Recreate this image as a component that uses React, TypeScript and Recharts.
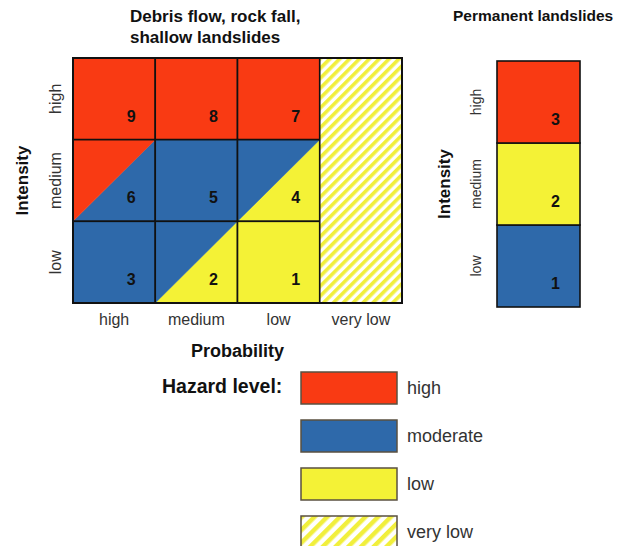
import React from "react";
import { ComposedChart, XAxis, YAxis, Scatter, ReferenceArea, Label } from "recharts";

// Debris flow, rock fall, shallow landslides matrix
const probabilityLabels = ["high", "medium", "low", "very low"];
const intensityLabels = ["low", "medium", "high"];

// one entry per cell: probability index, intensity index,
// hazard of upper-left half, hazard of lower-right half, cell number
const debrisProb = [0, 1, 2, 0, 1, 2, 0, 1, 2];
const debrisInt = [2, 2, 2, 1, 1, 1, 0, 0, 0];
const debrisUpper = ["high", "high", "high", "high", "moderate", "moderate", "moderate", "moderate", "low"];
const debrisLower = ["high", "high", "high", "moderate", "moderate", "low", "moderate", "low", "low"];
const debrisNumber = [9, 8, 7, 6, 5, 4, 3, 2, 1];

// Permanent landslides: low, medium, high intensity
const permanentLevels = ["moderate", "low", "high"];
const permanentNumber = [1, 2, 3];

const hazardLevels = ["high", "moderate", "low", "very low"];

const COLORS: Record<string, string> = {
  high: "#f93a13",
  moderate: "#2e69aa",
  low: "#f4f236",
  "very low": "url(#hatchMain)",
};

const FONT = '"Liberation Sans", Arial, Helvetica, sans-serif';

const splitShape = (upper: string, lower: string) => (props: any) => {
  const { x, y, width: w, height: h } = props;
  if (upper === lower) {
    return <rect x={x} y={y} width={w} height={h} fill={COLORS[upper]} stroke="#111" strokeWidth={1.6} />;
  }
  return (
    <g>
      <polygon
        points={`${x + w},${y} ${x + w},${y + h} ${x},${y + h}`}
        fill={COLORS[lower]}
        stroke={COLORS[lower]}
        strokeWidth={0.5}
      />
      <polygon
        points={`${x},${y} ${x + w},${y} ${x},${y + h}`}
        fill={COLORS[upper]}
        stroke={COLORS[upper]}
        strokeWidth={0.5}
      />
      <rect x={x} y={y} width={w} height={h} fill="none" stroke="#111" strokeWidth={1.6} />
    </g>
  );
};

const hatchShape = (props: any) => {
  const { x, y, width, height } = props;
  return (
    <g>
      <defs>
        <pattern id="hatchMain" width={7} height={7} patternUnits="userSpaceOnUse" patternTransform="rotate(45)">
          <rect width={7} height={7} fill="#ffffff" />
          <rect width={3.6} height={7} fill="#f1ef3c" />
        </pattern>
      </defs>
      <rect x={x} y={y} width={width} height={height} fill="url(#hatchMain)" stroke="#111" strokeWidth={1.6} />
    </g>
  );
};

const RotatedTick = (props: any) => {
  const { x, y, payload, shift, size } = props;
  const bx = x - shift;
  return (
    <text
      x={bx}
      y={y}
      transform={`rotate(-90, ${bx}, ${y})`}
      textAnchor="middle"
      fontSize={size}
      fill="#333"
      fontFamily={FONT}
    >
      {intensityLabels[Math.floor(payload.value)]}
    </text>
  );
};

const NumberMark = (props: any) => {
  const { cx, cy, payload } = props;
  return (
    <text x={cx + 17} y={cy + 17} dy="0.36em" textAnchor="middle" fontSize={16} fontWeight="bold" fill="#111" fontFamily={FONT}>
      {payload.n}
    </text>
  );
};

const intensityLabel = (dx: number) => ({ viewBox }: any) => {
  const bx = viewBox.x + dx;
  const cy = viewBox.y + viewBox.height / 2;
  return (
    <text
      x={bx}
      y={cy}
      transform={`rotate(-90, ${bx}, ${cy})`}
      textAnchor="middle"
      fontSize={17}
      fontWeight="bold"
      fill="#111"
      fontFamily={FONT}
    >
      Intensity
    </text>
  );
};

function DebrisChart() {
  const numbers = debrisNumber.map((n, i) => ({ x: debrisProb[i] + 0.5, y: debrisInt[i] + 0.5, n }));
  return (
    <ComposedChart width={420} height={370} margin={{ top: 58, right: 18, bottom: 0, left: 0 }}>
      <XAxis
        type="number"
        dataKey="x"
        domain={[0, 4]}
        ticks={[0.5, 1.5, 2.5, 3.5]}
        tickFormatter={(v: number) => probabilityLabels[Math.floor(v)]}
        axisLine={false}
        tickLine={false}
        tickMargin={5}
        height={67}
        allowDataOverflow
        tick={{ fontSize: 16, fill: "#333" }}
      >
        <Label
          content={({ viewBox }: any) => (
            <text
              x={viewBox.x + viewBox.width / 2}
              y={viewBox.y + 54}
              textAnchor="middle"
              fontSize={18}
              fontWeight="bold"
              fill="#111"
              fontFamily={FONT}
            >
              Probability
            </text>
          )}
        />
      </XAxis>
      <YAxis
        type="number"
        dataKey="y"
        domain={[0, 3]}
        ticks={[0.5, 1.5, 2.5]}
        width={73}
        axisLine={false}
        tickLine={false}
        allowDataOverflow
        tick={(p: any) => <RotatedTick {...p} shift={4} size={16} />}
      >
        <Label content={intensityLabel(28)} />
      </YAxis>
      {debrisNumber.map((n, i) => (
        <ReferenceArea
          key={n}
          x1={debrisProb[i]}
          x2={debrisProb[i] + 1}
          y1={debrisInt[i]}
          y2={debrisInt[i] + 1}
          shape={splitShape(debrisUpper[i], debrisLower[i])}
        />
      ))}
      <ReferenceArea x1={3} x2={4} y1={0} y2={3} shape={hatchShape} />
      <ReferenceArea x1={0} x2={4} y1={0} y2={3} fill="none" fillOpacity={0} stroke="#111" strokeWidth={2} />
      <Scatter data={numbers} isAnimationActive={false} shape={NumberMark} />
    </ComposedChart>
  );
}

function PermanentChart() {
  const numbers = permanentNumber.map((n, i) => ({ x: 0.5, y: i + 0.5, n }));
  return (
    <ComposedChart width={224} height={310} margin={{ top: 61, right: 64, bottom: 3, left: 0 }}>
      <XAxis type="number" dataKey="x" domain={[0, 1]} hide allowDataOverflow />
      <YAxis
        type="number"
        dataKey="y"
        domain={[0, 3]}
        ticks={[0.5, 1.5, 2.5]}
        width={77}
        axisLine={false}
        tickLine={false}
        allowDataOverflow
        tick={(p: any) => <RotatedTick {...p} shift={8} size={14} />}
      >
        <Label content={intensityLabel(30)} />
      </YAxis>
      {permanentLevels.map((lvl, i) => (
        <ReferenceArea
          key={i}
          x1={0}
          x2={1}
          y1={i}
          y2={i + 1}
          shape={splitShape(lvl, lvl)}
        />
      ))}
      <Scatter data={numbers} isAnimationActive={false} shape={NumberMark} />
    </ComposedChart>
  );
}

function HazardLegend() {
  return (
    <svg width={360} height={186} style={{ position: "absolute", left: 150, top: 360 }} fontFamily={FONT}>
      <defs>
        <pattern id="hatchLegend" width={9} height={9} patternUnits="userSpaceOnUse" patternTransform="rotate(45)">
          <rect width={9} height={9} fill="#ffffff" />
          <rect width={4.5} height={9} fill="#f1ef3c" />
        </pattern>
      </defs>
      <text x={12} y={33} fontSize={19.5} fontWeight="bold" fill="#111">
        Hazard level:
      </text>
      {hazardLevels.map((lvl, i) => (
        <g key={lvl}>
          <rect
            x={151}
            y={12 + i * 48}
            width={96}
            height={32}
            fill={lvl === "very low" ? "url(#hatchLegend)" : COLORS[lvl]}
            stroke="#5a5040"
            strokeWidth={1.5}
          />
          <text x={257} y={34 + i * 48} fontSize={18} fill="#333">
            {lvl}
          </text>
        </g>
      ))}
    </svg>
  );
}

export default function App() {
  return (
    <div
      style={{
        position: "absolute",
        left: 0,
        top: 0,
        width: 644,
        height: 546,
        background: "#fff",
        overflow: "hidden",
        fontFamily: FONT,
      }}
    >
      <div style={{ position: "absolute", left: 130, top: 6, fontSize: 17, lineHeight: "21px", fontWeight: "bold", color: "#111" }}>
        Debris flow, rock fall,
        <br />
        shallow landslides
      </div>
      <div style={{ position: "absolute", left: 453, top: 7, fontSize: 15.5, lineHeight: "18px", fontWeight: "bold", color: "#111" }}>
        Permanent landslides
      </div>
      <div style={{ position: "absolute", left: 0, top: 0 }}>
        <DebrisChart />
      </div>
      <div style={{ position: "absolute", left: 420, top: 0 }}>
        <PermanentChart />
      </div>
      <HazardLegend />
    </div>
  );
}
